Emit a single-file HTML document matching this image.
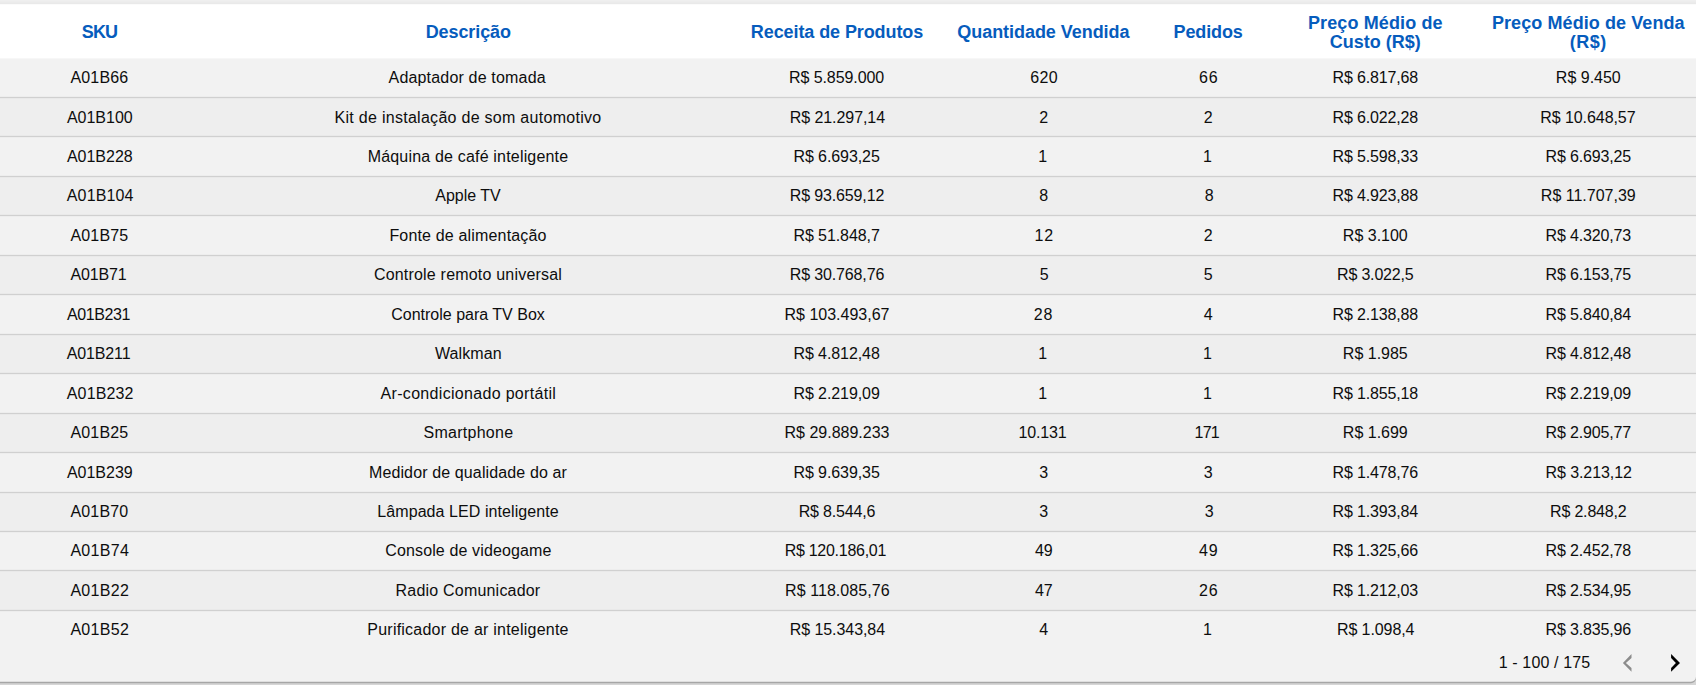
<!DOCTYPE html>
<html><head><meta charset="utf-8"><style>
html,body{margin:0;padding:0;}
body{width:1696px;height:685px;overflow:hidden;position:relative;background:#d6d6d6;font-family:"Liberation Sans",sans-serif;}
.a{position:absolute;}
.c{position:absolute;width:400px;text-align:center;white-space:nowrap;}
.t{font-size:16px;color:#0d0d0d;line-height:20px;}
.h{font-size:18px;font-weight:bold;color:#065cbd;line-height:20px;}
</style></head><body>

<div class="a" style="left:0;top:0;width:1696px;height:4px;background:linear-gradient(#f0f0f0,#e8e8e8)"></div>
<div class="a" style="left:0;top:4px;width:1696px;height:1px;background:#fbfbfb"></div>
<div class="a" style="left:0;top:5px;width:1696px;height:53px;background:#fff"></div>
<svg class="a" style="left:0;top:0" width="1696" height="685" viewBox="0 0 1696 685"><defs><filter id="bl" x="-1%" y="-5%" width="102%" height="110%"><feGaussianBlur stdDeviation="0.4"/></filter></defs><path d="M-10 58 H1696 V676.7 A5 5 0 0 1 1691 681.7 H-10 Z" fill="#a6a6a6" filter="url(#bl)" transform="translate(0 1.6)"/><path d="M-10 58 H1696 V676.7 A5 5 0 0 1 1691 681.7 H-10 Z" fill="#f2f2f2"/></svg>
<div class="a" style="left:0;top:58px;width:1696px;height:1px;background:#f7f7f7"></div>
<div class="a" style="left:0;top:98px;width:1696px;height:38px;background:#eeeeee"></div>
<div class="a" style="left:0;top:177px;width:1696px;height:38px;background:#eeeeee"></div>
<div class="a" style="left:0;top:256px;width:1696px;height:38px;background:#eeeeee"></div>
<div class="a" style="left:0;top:335px;width:1696px;height:38px;background:#eeeeee"></div>
<div class="a" style="left:0;top:414px;width:1696px;height:38px;background:#eeeeee"></div>
<div class="a" style="left:0;top:493px;width:1696px;height:38px;background:#eeeeee"></div>
<div class="a" style="left:0;top:571px;width:1696px;height:39px;background:#eeeeee"></div>
<div class="a" style="left:0;top:97px;width:1696px;height:1px;background:#d0d0d0"></div>
<div class="a" style="left:0;top:96px;width:1696px;height:1px;background:rgba(0,0,0,0.02)"></div>
<div class="a" style="left:0;top:98px;width:1696px;height:1px;background:rgba(0,0,0,0.02)"></div>
<div class="a" style="left:0;top:136px;width:1696px;height:1px;background:#d0d0d0"></div>
<div class="a" style="left:0;top:135px;width:1696px;height:1px;background:rgba(0,0,0,0.02)"></div>
<div class="a" style="left:0;top:137px;width:1696px;height:1px;background:rgba(0,0,0,0.02)"></div>
<div class="a" style="left:0;top:176px;width:1696px;height:1px;background:#d0d0d0"></div>
<div class="a" style="left:0;top:175px;width:1696px;height:1px;background:rgba(0,0,0,0.02)"></div>
<div class="a" style="left:0;top:177px;width:1696px;height:1px;background:rgba(0,0,0,0.02)"></div>
<div class="a" style="left:0;top:215px;width:1696px;height:1px;background:#d0d0d0"></div>
<div class="a" style="left:0;top:214px;width:1696px;height:1px;background:rgba(0,0,0,0.02)"></div>
<div class="a" style="left:0;top:216px;width:1696px;height:1px;background:rgba(0,0,0,0.02)"></div>
<div class="a" style="left:0;top:255px;width:1696px;height:1px;background:#d0d0d0"></div>
<div class="a" style="left:0;top:254px;width:1696px;height:1px;background:rgba(0,0,0,0.02)"></div>
<div class="a" style="left:0;top:256px;width:1696px;height:1px;background:rgba(0,0,0,0.02)"></div>
<div class="a" style="left:0;top:294px;width:1696px;height:1px;background:#d0d0d0"></div>
<div class="a" style="left:0;top:293px;width:1696px;height:1px;background:rgba(0,0,0,0.02)"></div>
<div class="a" style="left:0;top:295px;width:1696px;height:1px;background:rgba(0,0,0,0.02)"></div>
<div class="a" style="left:0;top:334px;width:1696px;height:1px;background:#d0d0d0"></div>
<div class="a" style="left:0;top:333px;width:1696px;height:1px;background:rgba(0,0,0,0.02)"></div>
<div class="a" style="left:0;top:335px;width:1696px;height:1px;background:rgba(0,0,0,0.02)"></div>
<div class="a" style="left:0;top:373px;width:1696px;height:1px;background:#d0d0d0"></div>
<div class="a" style="left:0;top:372px;width:1696px;height:1px;background:rgba(0,0,0,0.02)"></div>
<div class="a" style="left:0;top:374px;width:1696px;height:1px;background:rgba(0,0,0,0.02)"></div>
<div class="a" style="left:0;top:413px;width:1696px;height:1px;background:#d0d0d0"></div>
<div class="a" style="left:0;top:412px;width:1696px;height:1px;background:rgba(0,0,0,0.02)"></div>
<div class="a" style="left:0;top:414px;width:1696px;height:1px;background:rgba(0,0,0,0.02)"></div>
<div class="a" style="left:0;top:452px;width:1696px;height:1px;background:#d0d0d0"></div>
<div class="a" style="left:0;top:451px;width:1696px;height:1px;background:rgba(0,0,0,0.02)"></div>
<div class="a" style="left:0;top:453px;width:1696px;height:1px;background:rgba(0,0,0,0.02)"></div>
<div class="a" style="left:0;top:492px;width:1696px;height:1px;background:#d0d0d0"></div>
<div class="a" style="left:0;top:491px;width:1696px;height:1px;background:rgba(0,0,0,0.02)"></div>
<div class="a" style="left:0;top:493px;width:1696px;height:1px;background:rgba(0,0,0,0.02)"></div>
<div class="a" style="left:0;top:531px;width:1696px;height:1px;background:#d0d0d0"></div>
<div class="a" style="left:0;top:530px;width:1696px;height:1px;background:rgba(0,0,0,0.02)"></div>
<div class="a" style="left:0;top:532px;width:1696px;height:1px;background:rgba(0,0,0,0.02)"></div>
<div class="a" style="left:0;top:570px;width:1696px;height:1px;background:#d0d0d0"></div>
<div class="a" style="left:0;top:569px;width:1696px;height:1px;background:rgba(0,0,0,0.02)"></div>
<div class="a" style="left:0;top:571px;width:1696px;height:1px;background:rgba(0,0,0,0.02)"></div>
<div class="a" style="left:0;top:610px;width:1696px;height:1px;background:#d0d0d0"></div>
<div class="a" style="left:0;top:609px;width:1696px;height:1px;background:rgba(0,0,0,0.02)"></div>
<div class="a" style="left:0;top:611px;width:1696px;height:1px;background:rgba(0,0,0,0.02)"></div>
<div class="c t" style="left:-100.60px;top:68px;letter-spacing:0.160px">A01B66</div>
<div class="c t" style="left:267.20px;top:68px;letter-spacing:0.177px">Adaptador de tomada</div>
<div class="c t" style="left:636.60px;top:68px;letter-spacing:-0.073px">R$ 5.859.000</div>
<div class="c t" style="left:844.20px;top:68px;letter-spacing:0.400px">620</div>
<div class="c t" style="left:1008.70px;top:68px;letter-spacing:0.800px">66</div>
<div class="c t" style="left:1175.30px;top:68px;letter-spacing:-0.160px">R$ 6.817,68</div>
<div class="c t" style="left:1388.30px;top:68px">R$ 9.450</div>
<div class="c t" style="left:-100.20px;top:108px">A01B100</div>
<div class="c t" style="left:268.00px;top:108px;letter-spacing:0.282px">Kit de instalação de som automotivo</div>
<div class="c t" style="left:637.40px;top:108px;letter-spacing:-0.073px">R$ 21.297,14</div>
<div class="c t" style="left:843.80px;top:108px">2</div>
<div class="c t" style="left:1010.30px;top:108px;letter-spacing:4.000px">2</div>
<div class="c t" style="left:1175.30px;top:108px;letter-spacing:-0.160px">R$ 6.022,28</div>
<div class="c t" style="left:1387.90px;top:108px;letter-spacing:-0.072px">R$ 10.648,57</div>
<div class="c t" style="left:-100.20px;top:147px">A01B228</div>
<div class="c t" style="left:268.00px;top:147px;letter-spacing:0.185px">Máquina de café inteligente</div>
<div class="c t" style="left:636.60px;top:147px;letter-spacing:-0.080px">R$ 6.693,25</div>
<div class="c t" style="left:838.20px;top:147px;letter-spacing:-32.000px">1</div>
<div class="c t" style="left:1003.10px;top:147px;letter-spacing:-24.800px">1</div>
<div class="c t" style="left:1175.30px;top:147px;letter-spacing:-0.160px">R$ 5.598,33</div>
<div class="c t" style="left:1388.30px;top:147px;letter-spacing:-0.160px">R$ 6.693,25</div>
<div class="c t" style="left:-99.80px;top:186px;letter-spacing:0.133px">A01B104</div>
<div class="c t" style="left:268.00px;top:186px">Apple TV</div>
<div class="c t" style="left:637.00px;top:186px;letter-spacing:-0.145px">R$ 93.659,12</div>
<div class="c t" style="left:843.80px;top:186px">8</div>
<div class="c t" style="left:1007.10px;top:186px;letter-spacing:-4.000px">8</div>
<div class="c t" style="left:1175.30px;top:186px;letter-spacing:-0.160px">R$ 4.923,88</div>
<div class="c t" style="left:1388.30px;top:186px">R$ 11.707,39</div>
<div class="c t" style="left:-100.60px;top:226px;letter-spacing:0.160px">A01B75</div>
<div class="c t" style="left:268.00px;top:226px;letter-spacing:0.168px">Fonte de alimentação</div>
<div class="c t" style="left:636.60px;top:226px;letter-spacing:-0.080px">R$ 51.848,7</div>
<div class="c t" style="left:844.20px;top:226px;letter-spacing:0.800px">12</div>
<div class="c t" style="left:1010.30px;top:226px;letter-spacing:4.000px">2</div>
<div class="c t" style="left:1175.30px;top:226px">R$ 3.100</div>
<div class="c t" style="left:1388.30px;top:226px;letter-spacing:-0.160px">R$ 4.320,73</div>
<div class="c t" style="left:-101.40px;top:265px;letter-spacing:-0.160px">A01B71</div>
<div class="c t" style="left:268.00px;top:265px;letter-spacing:0.200px">Controle remoto universal</div>
<div class="c t" style="left:637.00px;top:265px;letter-spacing:-0.145px">R$ 30.768,76</div>
<div class="c t" style="left:839.80px;top:265px;letter-spacing:-9.600px">5</div>
<div class="c t" style="left:1004.30px;top:265px;letter-spacing:-8.000px">5</div>
<div class="c t" style="left:1175.30px;top:265px;letter-spacing:-0.178px">R$ 3.022,5</div>
<div class="c t" style="left:1388.30px;top:265px;letter-spacing:-0.160px">R$ 6.153,75</div>
<div class="c t" style="left:-101.40px;top:305px;letter-spacing:-0.400px">A01B231</div>
<div class="c t" style="left:268.00px;top:305px">Controle para TV Box</div>
<div class="c t" style="left:637.00px;top:305px">R$ 103.493,67</div>
<div class="c t" style="left:843.40px;top:305px;letter-spacing:0.800px">28</div>
<div class="c t" style="left:1014.30px;top:305px;letter-spacing:12.000px">4</div>
<div class="c t" style="left:1175.30px;top:305px;letter-spacing:-0.160px">R$ 2.138,88</div>
<div class="c t" style="left:1388.30px;top:305px;letter-spacing:-0.160px">R$ 5.840,84</div>
<div class="c t" style="left:-101.40px;top:344px;letter-spacing:-0.133px">A01B211</div>
<div class="c t" style="left:268.40px;top:344px;letter-spacing:0.133px">Walkman</div>
<div class="c t" style="left:636.60px;top:344px;letter-spacing:-0.080px">R$ 4.812,48</div>
<div class="c t" style="left:838.20px;top:344px;letter-spacing:-32.000px">1</div>
<div class="c t" style="left:1003.10px;top:344px;letter-spacing:-24.800px">1</div>
<div class="c t" style="left:1175.30px;top:344px">R$ 1.985</div>
<div class="c t" style="left:1388.30px;top:344px;letter-spacing:-0.160px">R$ 4.812,48</div>
<div class="c t" style="left:-99.80px;top:384px;letter-spacing:0.133px">A01B232</div>
<div class="c t" style="left:268.40px;top:384px;letter-spacing:0.313px">Ar-condicionado portátil</div>
<div class="c t" style="left:636.60px;top:384px;letter-spacing:-0.080px">R$ 2.219,09</div>
<div class="c t" style="left:838.20px;top:384px;letter-spacing:-32.000px">1</div>
<div class="c t" style="left:1003.10px;top:384px;letter-spacing:-24.800px">1</div>
<div class="c t" style="left:1175.30px;top:384px;letter-spacing:-0.160px">R$ 1.855,18</div>
<div class="c t" style="left:1388.30px;top:384px;letter-spacing:-0.160px">R$ 2.219,09</div>
<div class="c t" style="left:-100.60px;top:423px;letter-spacing:0.160px">A01B25</div>
<div class="c t" style="left:268.40px;top:423px;letter-spacing:0.267px">Smartphone</div>
<div class="c t" style="left:637.00px;top:423px">R$ 29.889.233</div>
<div class="c t" style="left:842.60px;top:423px;letter-spacing:-0.160px">10.131</div>
<div class="c t" style="left:1006.70px;top:423px;letter-spacing:-0.800px">171</div>
<div class="c t" style="left:1175.30px;top:423px">R$ 1.699</div>
<div class="c t" style="left:1388.30px;top:423px;letter-spacing:-0.160px">R$ 2.905,77</div>
<div class="c t" style="left:-100.20px;top:463px">A01B239</div>
<div class="c t" style="left:268.00px;top:463px;letter-spacing:0.128px">Medidor de qualidade do ar</div>
<div class="c t" style="left:636.60px;top:463px;letter-spacing:-0.080px">R$ 9.639,35</div>
<div class="c t" style="left:843.80px;top:463px">3</div>
<div class="c t" style="left:1008.30px;top:463px">3</div>
<div class="c t" style="left:1175.30px;top:463px;letter-spacing:-0.160px">R$ 1.478,76</div>
<div class="c t" style="left:1388.70px;top:463px;letter-spacing:-0.080px">R$ 3.213,12</div>
<div class="c t" style="left:-100.60px;top:502px;letter-spacing:0.160px">A01B70</div>
<div class="c t" style="left:268.00px;top:502px;letter-spacing:0.073px">Lâmpada LED inteligente</div>
<div class="c t" style="left:637.00px;top:502px;letter-spacing:-0.178px">R$ 8.544,6</div>
<div class="c t" style="left:843.80px;top:502px">3</div>
<div class="c t" style="left:1007.10px;top:502px;letter-spacing:-4.000px">3</div>
<div class="c t" style="left:1175.30px;top:502px;letter-spacing:-0.160px">R$ 1.393,84</div>
<div class="c t" style="left:1388.30px;top:502px;letter-spacing:-0.178px">R$ 2.848,2</div>
<div class="c t" style="left:-100.20px;top:541px;letter-spacing:0.320px">A01B74</div>
<div class="c t" style="left:268.40px;top:541px;letter-spacing:0.126px">Console de videogame</div>
<div class="c t" style="left:635.40px;top:541px;letter-spacing:-0.267px">R$ 120.186,01</div>
<div class="c t" style="left:843.80px;top:541px">49</div>
<div class="c t" style="left:1008.70px;top:541px;letter-spacing:0.800px">49</div>
<div class="c t" style="left:1175.30px;top:541px;letter-spacing:-0.160px">R$ 1.325,66</div>
<div class="c t" style="left:1388.30px;top:541px;letter-spacing:-0.160px">R$ 2.452,78</div>
<div class="c t" style="left:-100.20px;top:581px;letter-spacing:0.320px">A01B22</div>
<div class="c t" style="left:268.00px;top:581px;letter-spacing:0.200px">Radio Comunicador</div>
<div class="c t" style="left:637.40px;top:581px;letter-spacing:0.067px">R$ 118.085,76</div>
<div class="c t" style="left:843.80px;top:581px">47</div>
<div class="c t" style="left:1008.70px;top:581px;letter-spacing:0.800px">26</div>
<div class="c t" style="left:1175.30px;top:581px;letter-spacing:-0.160px">R$ 1.212,03</div>
<div class="c t" style="left:1388.30px;top:581px;letter-spacing:-0.160px">R$ 2.534,95</div>
<div class="c t" style="left:-100.20px;top:620px;letter-spacing:0.320px">A01B52</div>
<div class="c t" style="left:268.00px;top:620px;letter-spacing:0.228px">Purificador de ar inteligente</div>
<div class="c t" style="left:637.40px;top:620px;letter-spacing:-0.073px">R$ 15.343,84</div>
<div class="c t" style="left:847.80px;top:620px;letter-spacing:8.000px">4</div>
<div class="c t" style="left:1003.10px;top:620px;letter-spacing:-24.800px">1</div>
<div class="c t" style="left:1175.70px;top:620px;letter-spacing:-0.089px">R$ 1.098,4</div>
<div class="c t" style="left:1388.30px;top:620px;letter-spacing:-0.160px">R$ 3.835,96</div>
<div class="c h" style="left:-100.50px;top:22px;letter-spacing:-0.800px">SKU</div>
<div class="c h" style="left:268.30px;top:22px;letter-spacing:-0.100px">Descrição</div>
<div class="c h" style="left:637.00px;top:22px;letter-spacing:-0.089px">Receita de Produtos</div>
<div class="c h" style="left:843.40px;top:22px;letter-spacing:-0.047px">Quantidade Vendida</div>
<div class="c h" style="left:1008.10px;top:22px;letter-spacing:-0.133px">Pedidos</div>
<div class="c h" style="left:1175.30px;top:13px;letter-spacing:0.123px">Preço Médio de</div>
<div class="c h" style="left:1175.30px;top:32px">Custo (R$)</div>
<div class="c h" style="left:1388.30px;top:13px;letter-spacing:0.084px">Preço Médio de Venda</div>
<div class="c h" style="left:1388.30px;top:32px;letter-spacing:0.533px">(R$)</div>
<div class="c t" style="left:1344.50px;top:653px;letter-spacing:0.133px">1 - 100 / 175</div>
<svg class="a" style="left:0;top:0" width="1696" height="685" viewBox="0 0 1696 685"><path d="M1631.5 654.1 L1631.5 657.9 L1625.9 662.9 L1631.5 667.9 L1631.5 671.7 L1622.9 662.9 Z" fill="#8c8c8c"/><path d="M1671.1 654.1 L1671.1 657.9 L1675.9 662.9 L1671.1 667.9 L1671.1 671.7 L1680 662.9 Z" fill="#000"/></svg>
</body></html>
